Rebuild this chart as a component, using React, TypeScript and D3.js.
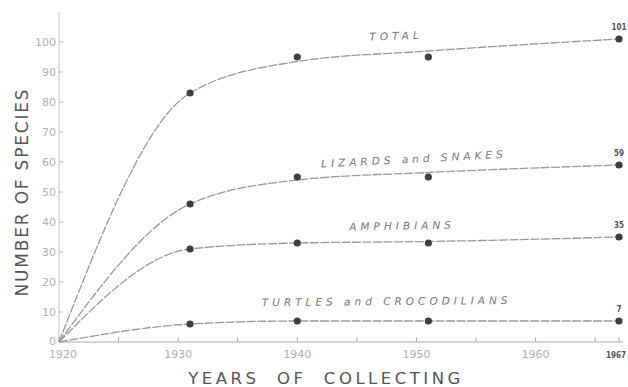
import React from "react";
import * as d3 from "d3";

const W = 628;
const H = 387;

// observed collecting years
const years = [1931, 1940, 1951, 1967];
const totalPts = [83, 95, 95, 101];
const lizardPts = [46, 55, 55, 59];
const amphPts = [31, 33, 33, 35];
const turtlePts = [6, 7, 7, 7];

// smooth curves as drawn
const curveYears = [1920, 1931, 1940, 1951, 1967];
const totalCurve = [0, 83, 93.5, 97, 101];
const lizardCurve = [0, 46, 54, 56.5, 59];
const amphCurve = [0, 31, 33, 33.5, 35];
const turtleCurve = [0, 6, 7, 7, 7];

const endLabels = ["101", "59", "35", "7"];
const seriesNames = ["TOTAL", "LIZARDS and SNAKES", "AMPHIBIANS", "TURTLES and CROCODILIANS"];

const yTicks = [0, 10, 20, 30, 40, 50, 60, 70, 80, 90, 100];
const yTickLabels = ["0", "10", "20", "30", "40", "50", "60", "70", "80", "90", "100"];
const xTickYears = [1920, 1925, 1930, 1935, 1940, 1945, 1950, 1955, 1960, 1965, 1967];
const xLabelYears = [1920, 1930, 1940, 1950, 1960];
const xLabels = ["1920", "1930", "1940", "1950", "1960"];
const lastYearLabel = "1967";

export default function App() {
  const x = d3.scaleLinear().domain([1920, 1967]).range([59, 619]);
  const y = d3.scaleLinear().domain([0, 100]).range([342, 42]);
  const line = d3
    .line<[number, number]>()
    .x((d) => x(d[0]))
    .y((d) => y(d[1]))
    .curve(d3.curveMonotoneX);

  const curves = [totalCurve, lizardCurve, amphCurve, turtleCurve];
  const pts = [totalPts, lizardPts, amphPts, turtlePts];

  const labelPos: { yr: number; v: number; rot: number }[] = [
    { yr: 1948.3, v: 100.8, rot: -2 },
    { yr: 1949.8, v: 59.8, rot: -3 },
    { yr: 1948.8, v: 37.5, rot: -1 },
    { yr: 1947.5, v: 12.3, rot: -0.5 },
  ];

  return (
    <svg width={W} height={H} style={{ display: "block", position: "absolute", left: 0, top: 0, background: "#fff" }}>
      <rect x={0} y={0} width={W} height={H} fill="#fff" />
      {/* y axis */}
      <line x1={x(1920)} x2={x(1920)} y1={12} y2={y(0)} stroke="#c4c4c4" strokeWidth={1} />
      {yTicks.map((t, i) => (
        <g key={t}>
          <line x1={x(1920)} x2={x(1920) + 4} y1={y(t)} y2={y(t)} stroke="#bbb" strokeWidth={1} />
          <text
            x={x(1920) - 3}
            y={y(t) + (t === 0 ? 2.5 : 4)}
            textAnchor="end"
            fontFamily="DejaVu Sans, sans-serif"
            fontSize={11}
            fill="#b0b0b0"
          >
            {yTickLabels[i]}
          </text>
        </g>
      ))}
      {/* x axis */}
      <line x1={x(1920)} x2={x(1967) + 4} y1={y(0)} y2={y(0)} stroke="#aaa" strokeWidth={1.2} />
      {xTickYears.map((t) => (
        <line key={t} x1={x(t)} x2={x(t)} y1={y(0)} y2={y(0) - 5} stroke="#aaa" strokeWidth={1} />
      ))}
      {xLabelYears.map((t, i) => (
        <text
          key={t}
          x={x(t) + (i === 0 ? 4 : 0)}
          y={y(0) + 16}
          textAnchor="middle"
          fontFamily="DejaVu Sans, sans-serif"
          fontSize={11}
          fill="#b0b0b0"
        >
          {xLabels[i]}
        </text>
      ))}
      <text
        x={626}
        y={y(0) + 16}
        textAnchor="end"
        fontFamily="DejaVu Sans Condensed, sans-serif"
        fontWeight="bold"
        fontSize={8}
        fill="#555"
      >
        {lastYearLabel}
      </text>

      {/* curves */}
      {curves.map((c, i) => (
        <path
          key={i}
          d={line(curveYears.map((yr, j) => [yr, c[j]] as [number, number])) || ""}
          fill="none"
          stroke="#999"
          strokeWidth={1.3}
          strokeDasharray="9 1.5"
        />
      ))}
      {/* points */}
      {pts.map((p, i) =>
        years.map((yr, j) => (
          <circle key={`${i}-${j}`} cx={x(yr)} cy={y(p[j])} r={3.6} fill="#3f3f3f" />
        ))
      )}
      {/* end labels */}
      {pts.map((p, i) => (
        <text
          key={i}
          x={x(1967)}
          y={y(p[3]) - 9}
          textAnchor="middle"
          fontFamily="DejaVu Sans Condensed, sans-serif"
          fontWeight="bold"
          fontSize={8}
          fill="#555"
        >
          {endLabels[i]}
        </text>
      ))}
      {/* series names */}
      {seriesNames.map((n, i) => {
        const lp = labelPos[i];
        const cx = x(lp.yr);
        const cy = y(lp.v);
        return (
          <text
            key={n}
            x={cx}
            y={cy}
            textAnchor="middle"
            fontFamily="DejaVu Sans, sans-serif"
            fontStyle="italic"
            fontSize={10.5}
            letterSpacing={4}
            fill="#777"
            transform={`rotate(${lp.rot} ${cx} ${cy})`}
          >
            {n}
          </text>
        );
      })}
      {/* axis titles */}
      <text
        transform={`translate(28 ${192}) rotate(-90)`}
        textAnchor="middle"
        fontFamily="DejaVu Sans, sans-serif"
        fontSize={17}
        letterSpacing={1.8}
        fill="#555"
      >
        NUMBER OF SPECIES
      </text>
      <text
        x={326}
        y={384}
        textAnchor="middle"
        fontFamily="DejaVu Sans, sans-serif"
        fontSize={16.5}
        letterSpacing={3.5}
        fill="#555"
        style={{ whiteSpace: "pre" }}
      >
        {"YEARS  OF  COLLECTING"}
      </text>
    </svg>
  );
}
